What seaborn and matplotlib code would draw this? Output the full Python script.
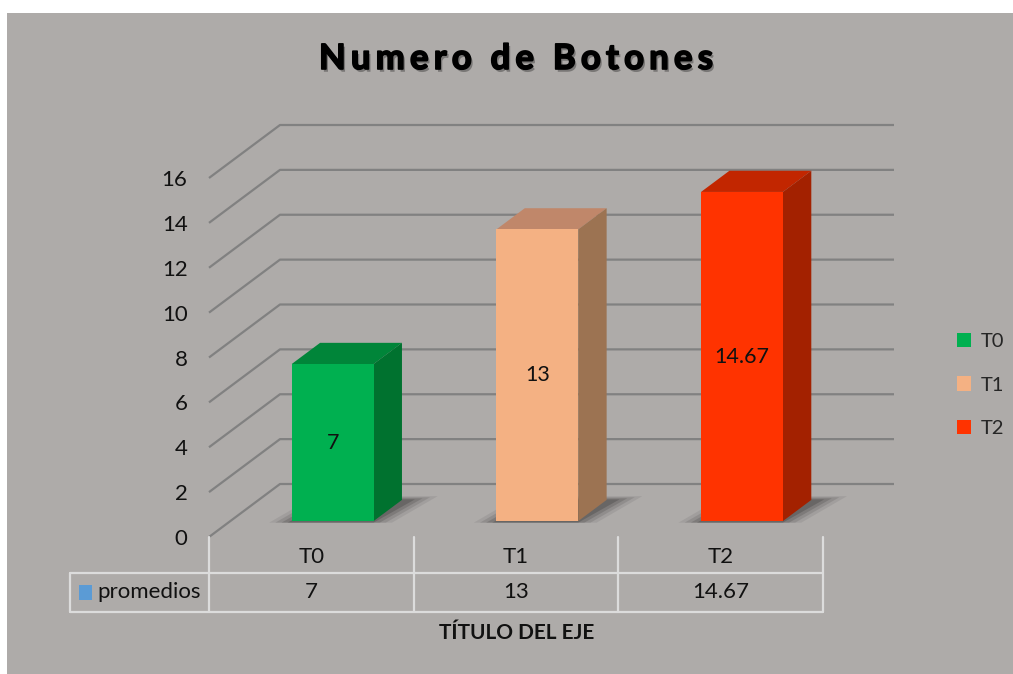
import numpy as np
import pandas as pd
import matplotlib
matplotlib.use("Agg")
import matplotlib.pyplot as plt
import seaborn as sns
from matplotlib.patches import Polygon, Rectangle, Patch
from matplotlib.transforms import offset_copy
from matplotlib.font_manager import FontProperties
import matplotlib.patheffects as pe

# ---- data ----
categories = ["T0", "T1", "T2"]
values = [7, 13, 14.67]
value_labels = ["7", "13", "14.67"]
series_name = "promedios"
y_ticks = [0, 2, 4, 6, 8, 10, 12, 14, 16]
title = "Numero de Botones"
x_title = "TÍTULO DEL EJE"

front_colors = ["#00B050", "#F4B183", "#FF3300"]
top_colors = ["#008539", "#C0876A", "#C22600"]
side_colors = ["#00722F", "#9C7352", "#A32100"]

sns.set_theme(style="white")
plt.rcParams["font.family"] = ["Lato", "DejaVu Sans"]

W, H = 1013, 674
fig = plt.figure(figsize=(W / 100, H / 100), dpi=100, facecolor="white")
bg = "#AEABA9"
fig.add_artist(Rectangle((7 / W, 0), 1 - 7 / W, (H - 13) / H, transform=fig.transFigure,
                         facecolor=bg, edgecolor="none", zorder=-10))

# front plane of the 3D box
left_px, right_px, bot_px, top_px = 209, 823, 537, 178
ax = fig.add_axes([left_px / W, (H - bot_px) / H, (right_px - left_px) / W, (bot_px - top_px) / H])
ax.set_facecolor("none")
for s in ax.spines.values():
    s.set_visible(False)

DEPTH = np.array([71.0, 53.0])  # pixels front->back
FS = 16

df = pd.DataFrame({"cat": categories, "val": values})
sns.barplot(data=df, x="cat", y="val", hue="cat", palette=front_colors, width=0.4,
            saturation=1, legend=False, ax=ax, zorder=5)
ax.set_xlim(-0.5, 2.5)
ax.set_ylim(0, 16)
ax.set_xlabel("")
ax.set_ylabel("")
ax.set_xticks([])
ax.set_yticks(y_ticks)
ax.set_yticklabels([str(t) for t in y_ticks], fontsize=FS, color="#111111")
ax.tick_params(axis="y", length=0, pad=15.5)

fig.canvas.draw()
renderer = fig.canvas.get_renderer()
inv = fig.transFigure.inverted()


def P(x, v, d):
    p = ax.transData.transform((x, v)) + d * DEPTH
    return inv.transform(p)


grid_c = "#818181"
for v in y_ticks:
    a = P(-0.5, v, 0); b = P(-0.5, v, 1); c = P(2.5, v, 1)
    ax.plot([a[0], b[0], c[0]], [a[1], b[1], c[1]], transform=fig.transFigure,
            color=grid_c, lw=1.6, clip_on=False, zorder=1, solid_capstyle="butt")

d0, d1 = 0.3, 0.7
off = offset_copy(ax.transData, fig=fig, x=d0 * DEPTH[0], y=d0 * DEPTH[1], units="dots")
bars = [p for p in ax.patches]
for i, p in enumerate(bars):
    x0 = p.get_x(); w = p.get_width(); h = p.get_height()
    p.set_transform(off)
    p.set_clip_on(False)
    p.set_edgecolor("none")
    # soft shadow on the floor
    for (ex, ed, al) in [(0.10, 0.07, 0.07), (0.07, 0.05, 0.10), (0.04, 0.03, 0.13), (0.01, 0.01, 0.16)]:
        shp = [P(x0 - ex, 0, d0 - 0.03), P(x0 + w + ex, 0, d0 - 0.03),
               P(x0 + w + ex + 0.05, 0, d1 + ed), P(x0 - ex + 0.05, 0, d1 + ed)]
        ax.add_patch(Polygon(shp, closed=True, transform=fig.transFigure, facecolor="black",
                             edgecolor="none", alpha=al, clip_on=False, zorder=2))
    top = [P(x0, h, d0), P(x0 + w, h, d0), P(x0 + w, h, d1), P(x0, h, d1)]
    side = [P(x0 + w, 0, d0), P(x0 + w, h, d0), P(x0 + w, h, d1), P(x0 + w, 0, d1)]
    ax.add_patch(Polygon(top, closed=True, transform=fig.transFigure, facecolor=top_colors[i],
                         edgecolor="none", clip_on=False, zorder=4))
    ax.add_patch(Polygon(side, closed=True, transform=fig.transFigure, facecolor=side_colors[i],
                         edgecolor="none", clip_on=False, zorder=4))
    ax.text(x0 + w / 2, h / 2, value_labels[i], transform=off, ha="center", va="center",
            fontsize=15.5, color="#111111", zorder=6)

# data table
xt = ax.get_xaxis_transform()
unit = (right_px - left_px) / 3.0
tab_left = -0.5 + (70 - left_px) / unit
span = bot_px - top_px
def ya(py):
    return (bot_px - py) / span

line_c = "#DCDCDC"
for xv in [-0.5, 0.5, 1.5, 2.5]:
    ax.plot([xv, xv], [0, ya(612)], transform=xt, color=line_c, lw=1.6, clip_on=False, zorder=3)
for py in [573, 612]:
    ax.plot([tab_left, 2.5], [ya(py), ya(py)], transform=xt, color=line_c, lw=1.6, clip_on=False, zorder=3)
ax.plot([tab_left, tab_left], [ya(573), ya(612)], transform=xt, color=line_c, lw=1.6, clip_on=False, zorder=3)

for i, c in enumerate(categories):
    ax.text(i, ya(557), c, transform=xt, ha="center", va="center", fontsize=FS, color="#111111")
    ax.text(i, ya(592), value_labels[i], transform=xt, ha="center", va="center", fontsize=FS, color="#111111")

fig.add_artist(Rectangle((79 / W, 1 - 600 / H), 13 / W, 15 / H, transform=fig.transFigure,
                         facecolor="#5B9BD5", edgecolor="none"))
fig.text(97 / W, 1 - 592 / H, series_name, ha="left", va="center", fontsize=FS, color="#111111")

fig.text(517 / W, 1 - 633 / H, x_title, ha="center", va="center", fontsize=15,
         fontweight="bold", color="#111111")

# title with letter spacing
tfp = FontProperties(family=["Lato", "DejaVu Sans"], weight="bold", size=25)
widths = [renderer.get_text_width_height_descent(ch, tfp, ismath=False)[0] for ch in title]
target_w = 394.0
gap = (target_w - sum(widths)) / (len(title) - 1)
x = 516 - target_w / 2
for ch, wch in zip(title, widths):
    if ch != " ":
        fig.text(x / W, 1 - 59 / H, ch, ha="left", va="center", fontproperties=tfp, color="black",
                 path_effects=[pe.withSimplePatchShadow(offset=(1.5, -2), shadow_rgbFace="black",
                                                        alpha=0.3),
                               pe.Stroke(linewidth=1.2, foreground="black"), pe.Normal()])
    x += wch + gap

# legend
handles = [Patch(facecolor=c, edgecolor="none") for c in front_colors]
fig.legend(handles, categories, loc="center left", bbox_to_anchor=(939 / W, 1 - 385 / H),
           frameon=False, handlelength=0.7, handleheight=0.7, labelspacing=1.3,
           handletextpad=0.45, fontsize=14.5)

fig.savefig("out.png", dpi=100, facecolor="white")
